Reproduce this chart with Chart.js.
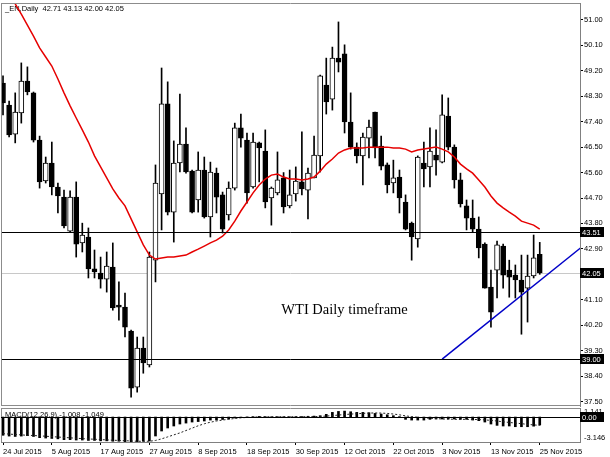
<!DOCTYPE html>
<html>
<head>
<meta charset="utf-8">
<script src="https://cdn.jsdelivr.net/npm/chart.js@4.4.1/dist/chart.umd.min.js"></script>
<style>
  html, body { margin: 0; padding: 0; background: #fff; }
  #wrap { position: relative; width: 610px; height: 457px; overflow: hidden; }
  .box { position: absolute; left: 0; width: 610px; }
</style>
</head>
<body>
<div id="wrap">
  <div class="box" style="top:0;height:407px"><canvas id="main"></canvas></div>
  <div class="box" style="top:406px;height:51px"><canvas id="macd"></canvas></div>
</div>
<script>
// daily bars, 24 Jul 2015 .. 25 Nov 2015
const open  = [48.77,47.99,46.96,47.71,48.84,48.42,46.75,45.30,45.94,45.09,
               44.73,43.53,44.73,43.11,43.32,42.19,42.04,41.83,42.26,40.91,
               40.84,39.99,38.01,39.39,38.79,42.50,44.84,48.03,44.20,45.94,
               46.61,45.65,44.63,45.69,44.03,45.58,44.81,44.10,45.05,47.18,
               46.75,45.09,46.65,46.36,44.70,44.88,45.41,44.42,44.84,45.27,
               44.98,45.41,46.19,48.70,48.20,49.65,49.80,47.39,46.50,46.19,
               46.82,47.74,46.54,45.87,45.23,45.44,44.56,43.81,43.25,45.94,
               45.80,46.22,45.97,47.60,46.50,45.34,44.42,43.99,43.60,43.07,
               41.55,42.15,43.00,42.15,41.97,41.80,41.51,41.94,42.71];
const high  = [49.02,48.13,48.42,49.48,49.34,48.45,46.89,46.15,46.68,45.23,
               44.98,44.95,45.27,43.81,43.64,42.86,42.61,42.79,43.11,41.73,
               41.34,40.03,39.78,39.78,42.79,45.87,49.30,48.81,46.72,48.38,
               47.18,45.69,46.33,46.15,45.97,45.76,44.91,45.27,47.35,47.67,
               47.00,47.00,46.68,47.11,45.09,46.33,45.60,45.69,45.80,47.04,
               45.76,46.89,49.05,49.65,50.04,50.93,50.12,48.42,46.65,47.00,
               47.46,47.74,46.89,45.94,46.04,45.69,44.81,43.85,46.19,46.68,
               47.18,47.11,48.35,48.24,46.58,45.58,44.63,44.63,44.03,43.11,
               42.15,43.18,43.07,42.50,42.33,42.68,42.68,43.39,43.13];
const low   = [47.64,46.86,46.65,47.35,48.35,46.68,45.05,45.23,44.81,44.17,
               43.64,43.50,42.61,42.79,41.87,41.87,41.51,41.37,40.73,40.38,
               39.78,37.65,37.83,38.50,38.72,41.73,43.57,44.10,43.14,45.62,
               45.58,44.17,44.20,43.99,43.32,44.17,43.46,43.92,44.98,46.50,
               44.52,45.05,45.27,44.35,43.74,44.81,44.17,44.35,44.59,44.81,
               43.96,45.41,45.62,47.67,47.81,49.16,47.00,46.43,45.94,45.16,
               46.12,46.12,45.69,44.88,44.88,44.17,43.57,42.50,42.96,45.09,
               45.09,45.51,45.94,46.40,45.05,44.38,43.57,43.50,42.58,41.51,
               40.13,41.16,41.51,41.19,41.16,39.88,40.31,41.87,42.00];
const close = [48.06,46.93,47.74,48.84,48.45,46.75,45.27,45.94,45.09,44.77,
               43.71,44.73,43.07,43.39,42.19,42.08,41.83,42.29,40.81,40.84,
               40.13,37.97,39.39,38.86,42.61,45.23,48.03,44.20,45.94,46.61,
               45.62,44.20,45.69,44.03,45.62,44.73,43.60,45.05,47.18,46.82,
               44.88,46.68,46.47,44.56,45.05,45.34,44.38,44.81,45.30,45.02,
               45.58,46.22,49.02,48.10,49.65,49.51,47.39,46.50,46.19,46.86,
               47.21,46.47,45.83,45.16,45.41,44.70,43.60,43.32,46.15,45.73,
               46.36,46.04,47.64,46.50,45.34,44.49,43.99,43.60,42.93,41.51,
               40.66,43.04,41.97,41.90,41.80,41.37,41.94,42.58,42.05];
// moving average (red)
const ma    = [52.35,51.96,51.57,51.21,50.82,50.43,50.01,49.69,49.37,48.91,
               48.42,47.96,47.53,47.11,46.68,46.19,45.80,45.41,45.02,44.70,
               44.42,43.96,43.50,43.04,42.68,42.54,42.58,42.61,42.61,42.65,
               42.68,42.79,42.89,43.00,43.11,43.21,43.35,43.57,43.88,44.24,
               44.56,44.88,45.16,45.37,45.51,45.55,45.44,45.37,45.37,45.34,
               45.37,45.44,45.65,45.90,46.08,46.29,46.40,46.47,46.47,46.47,
               46.50,46.50,46.50,46.50,46.47,46.47,46.43,46.33,46.40,46.43,
               46.47,46.50,46.43,46.33,46.15,45.90,45.73,45.58,45.34,45.09,
               44.77,44.52,44.35,44.20,44.06,43.88,43.81,43.74,43.60];
// MACD(12,26,9) histogram and signal
const macdMain = [-2.30,-2.40,-2.45,-2.40,-2.35,-2.45,-2.60,-2.65,-2.70,-2.75,
                  -2.85,-2.85,-2.90,-2.90,-2.95,-2.95,-3.00,-3.00,-3.05,-3.05,
                  -3.10,-3.146,-3.10,-3.05,-3.02,-2.39,-1.76,-1.38,-1.13,-0.88,
                  -0.76,-0.63,-0.57,-0.50,-0.38,-0.38,-0.31,-0.25,-0.12,-0.06,
                  0.02,0.05,0.08,0.05,0.02,0.04,0.03,0.03,0.05,0.06,
                  0.10,0.12,0.17,0.34,0.59,0.71,0.75,0.67,0.59,0.59,
                  0.55,0.46,0.38,0.29,0.17,0.05,-0.29,-0.38,-0.38,-0.38,
                  -0.29,-0.25,-0.25,-0.25,-0.25,-0.29,-0.29,-0.38,-0.46,-0.63,
                  -0.88,-1.05,-1.13,-1.13,-1.22,-1.22,-1.22,-1.15,-1.008];
const macdSignal = [-2.10,-2.15,-2.20,-2.25,-2.30,-2.33,-2.37,-2.42,-2.47,-2.52,
                    -2.57,-2.62,-2.67,-2.72,-2.76,-2.80,-2.84,-2.88,-2.92,-2.95,
                    -2.98,-3.02,-3.05,-3.06,-3.05,-2.95,-2.75,-2.50,-2.25,-2.00,
                    -1.70,-1.40,-1.10,-0.85,-0.65,-0.50,-0.38,-0.28,-0.18,-0.10,
                    -0.05,0.00,0.02,0.03,0.04,0.04,0.04,0.04,0.04,0.04,
                    0.05,0.06,0.08,0.12,0.18,0.25,0.32,0.37,0.42,0.46,
                    0.50,0.52,0.50,0.46,0.38,0.28,0.15,0.05,-0.04,-0.10,
                    -0.15,-0.20,-0.24,-0.26,-0.28,-0.29,-0.29,-0.30,-0.32,-0.36,
                    -0.42,-0.50,-0.60,-0.68,-0.76,-0.84,-0.92,-0.99,-1.049];
const priceTicks = [37.50,38.40,39.30,40.20,41.10,42.00,42.90,43.80,44.70,45.60,46.50,47.40,48.30,49.20,50.10,51.00];
const levels = [43.51, 39.00];
const bid = 42.05;
const trendLine = [[72, 39.00], [96, 43.16]];
const dateLabels = ['24 Jul 2015','5 Aug 2015','17 Aug 2015','27 Aug 2015','8 Sep 2015','18 Sep 2015',
                    '30 Sep 2015','12 Oct 2015','22 Oct 2015','3 Nov 2015','13 Nov 2015','25 Nov 2015'];
const labelStep = 8;
const note = { text: 'WTI Daily timeframe', bar: 56, price: 40.73 };

const FONT = "'Liberation Sans', Arial, sans-serif";
const xMin = -0.33, xMax = 94.6;
const last = close.length - 1;
const title = '_EN,Daily  ' + [open[last], high[last], low[last], close[last]].map(v => v.toFixed(2)).join(' ');

function hline(ctx, a, py, color) {
  const y = Math.round(py) + 0.5;
  ctx.strokeStyle = color; ctx.lineWidth = 1;
  ctx.beginPath(); ctx.moveTo(a.left, y); ctx.lineTo(a.right, y); ctx.stroke();
}
function tagBox(ctx, a, py, text) {
  const y = Math.round(py);
  ctx.fillStyle = '#000';
  ctx.fillRect(a.right, y - 5, 24, 10);
  ctx.fillStyle = '#fff';
  ctx.font = '7.5px ' + FONT;
  ctx.textAlign = 'left'; ctx.textBaseline = 'middle';
  ctx.fillText(text, a.right + 2, y + 0.5);
}

const mainDecor = {
  id: 'mainDecor',
  beforeDatasetsDraw(chart) {
    const { ctx, chartArea: a, scales: { y } } = chart;
    ctx.save();
    hline(ctx, a, y.getPixelForValue(bid), '#c8c8c8');
    ctx.font = '7.5px ' + FONT; ctx.fillStyle = '#000';
    ctx.textAlign = 'left'; ctx.textBaseline = 'middle';
    ctx.fillText(title, 5, 9);
    ctx.restore();
  },
  afterDatasetsDraw(chart) {
    const { ctx, chartArea: a, scales: { x, y } } = chart;
    ctx.save();
    levels.forEach(v => hline(ctx, a, y.getPixelForValue(v), '#000'));
    ctx.font = "14.5px 'Liberation Serif', 'Times New Roman', serif";
    ctx.fillStyle = '#000'; ctx.textAlign = 'center'; ctx.textBaseline = 'middle';
    ctx.fillText(note.text, x.getPixelForValue(note.bar), y.getPixelForValue(note.price));
    ctx.restore();
  },
  afterDraw(chart) {
    const { ctx, chartArea: a, scales: { y } } = chart;
    ctx.save();
    ctx.strokeStyle = '#8c8c8c'; ctx.lineWidth = 1;
    ctx.beginPath();
    ctx.moveTo(a.left + 0.5, a.top); ctx.lineTo(a.left + 0.5, a.bottom);
    ctx.moveTo(a.left, a.top + 0.5); ctx.lineTo(a.right, a.top + 0.5);
    ctx.moveTo(a.left, a.bottom - 0.5); ctx.lineTo(a.right, a.bottom - 0.5);
    ctx.stroke();
    levels.forEach(v => tagBox(ctx, a, y.getPixelForValue(v), v.toFixed(2)));
    tagBox(ctx, a, y.getPixelForValue(bid), bid.toFixed(2));
    ctx.restore();
  }
};

new Chart(document.getElementById('main'), {
  type: 'bar',
  data: {
    datasets: [
      { label: 'wick', data: low.map((l, i) => ({ x: i, y: [l, high[i]] })),
        backgroundColor: '#000', barThickness: 1, grouped: false, order: 3 },
      { label: 'body', data: open.map((o, i) => ({ x: i, y: [o, close[i]] })),
        backgroundColor: c => close[c.dataIndex] >= open[c.dataIndex] ? '#fff' : '#000',
        borderColor: '#000', borderWidth: 1, borderSkipped: false,
        barThickness: 5, grouped: false, order: 2 },
      { type: 'line', label: 'MA', data: ma.map((v, i) => ({ x: i, y: v })),
        borderColor: '#e60000', borderWidth: 1.5, pointRadius: 0, tension: 0, order: 1 },
      { type: 'line', label: 'trend', data: trendLine.map(p => ({ x: p[0], y: p[1] })),
        borderColor: '#0000c8', borderWidth: 1.5, pointRadius: 0, order: 0 }
    ]
  },
  options: {
    responsive: true, maintainAspectRatio: false, animation: false,
    layout: { padding: { left: 1, top: 3, right: 0, bottom: 1 } },
    plugins: { legend: { display: false }, tooltip: { enabled: false } },
    scales: {
      x: { type: 'linear', min: xMin, max: xMax, offset: false, display: false },
      y: {
        position: 'right', min: 37.34, max: 51.60,
        afterBuildTicks: s => { s.ticks = priceTicks.map(v => ({ value: v })); },
        afterFit: s => { s.width = 30; s.paddingTop = 0; s.paddingBottom = 0; },
        grid: { drawOnChartArea: false, drawTicks: true, tickLength: 3, color: '#000' },
        border: { display: true, color: '#808080' },
        ticks: { font: { family: FONT, size: 7.5 }, color: '#000', padding: 1,
                 callback: v => v.toFixed(2) }
      }
    }
  },
  plugins: [mainDecor]
});

const macdDecor = {
  id: 'macdDecor',
  afterDraw(chart) {
    const { ctx, chartArea: a, scales: { y } } = chart;
    ctx.save();
    ctx.strokeStyle = '#8c8c8c'; ctx.lineWidth = 1;
    ctx.beginPath();
    ctx.moveTo(a.left + 0.5, a.top); ctx.lineTo(a.left + 0.5, a.bottom);
    ctx.moveTo(a.left, a.top + 0.5); ctx.lineTo(a.right, a.top + 0.5);
    ctx.stroke();
    hline(ctx, a, y.getPixelForValue(0), '#000');
    ctx.font = '7.5px ' + FONT; ctx.fillStyle = '#000';
    ctx.textAlign = 'left'; ctx.textBaseline = 'middle';
    ctx.fillText('MACD(12,26,9) ' + macdMain[last].toFixed(3) + ' ' + macdSignal[last].toFixed(3), 5, a.top + 7);
    ctx.fillText(y.max.toFixed(3), a.right + 4, a.top + 4);
    ctx.fillText(y.min.toFixed(3), a.right + 4, a.bottom - 4);
    tagBox(ctx, a, y.getPixelForValue(0), '0.00');
    ctx.restore();
  }
};

new Chart(document.getElementById('macd'), {
  type: 'bar',
  data: {
    datasets: [
      { label: 'MACD', data: macdMain.map((v, i) => ({ x: i, y: v })),
        backgroundColor: '#000', barThickness: 2, order: 2 },
      { type: 'line', label: 'Signal', data: macdSignal.map((v, i) => ({ x: i, y: v })),
        borderColor: '#222', borderWidth: 1, borderDash: [2, 2], pointRadius: 0, order: 1 }
    ]
  },
  options: {
    responsive: true, maintainAspectRatio: false, animation: false,
    layout: { padding: { left: 1, top: 2, right: 0, bottom: 0 } },
    plugins: { legend: { display: false }, tooltip: { enabled: false } },
    scales: {
      x: {
        type: 'linear', min: xMin, max: xMax, offset: false, position: 'bottom',
        afterBuildTicks: s => { s.ticks = dateLabels.map((_, k) => ({ value: k * labelStep })); },
        afterFit: s => { s.height = 15; s.paddingLeft = 0; s.paddingRight = 0; },
        grid: { drawOnChartArea: false, drawTicks: true, tickLength: 3, color: '#000', offset: false },
        border: { display: true, color: '#808080' },
        ticks: { align: 'start', autoSkip: false, maxRotation: 0, padding: 2,
                 font: { family: FONT, size: 7.5 }, color: '#000',
                 callback: v => dateLabels[Math.round(v / labelStep)] }
      },
      y: {
        position: 'right', min: -3.146, max: 1.141,
        afterFit: s => { s.width = 30; s.paddingTop = 0; s.paddingBottom = 0; },
        grid: { drawOnChartArea: false, drawTicks: false },
        border: { display: true, color: '#808080' },
        ticks: { display: false }
      }
    }
  },
  plugins: [macdDecor]
});
</script>
</body>
</html>
